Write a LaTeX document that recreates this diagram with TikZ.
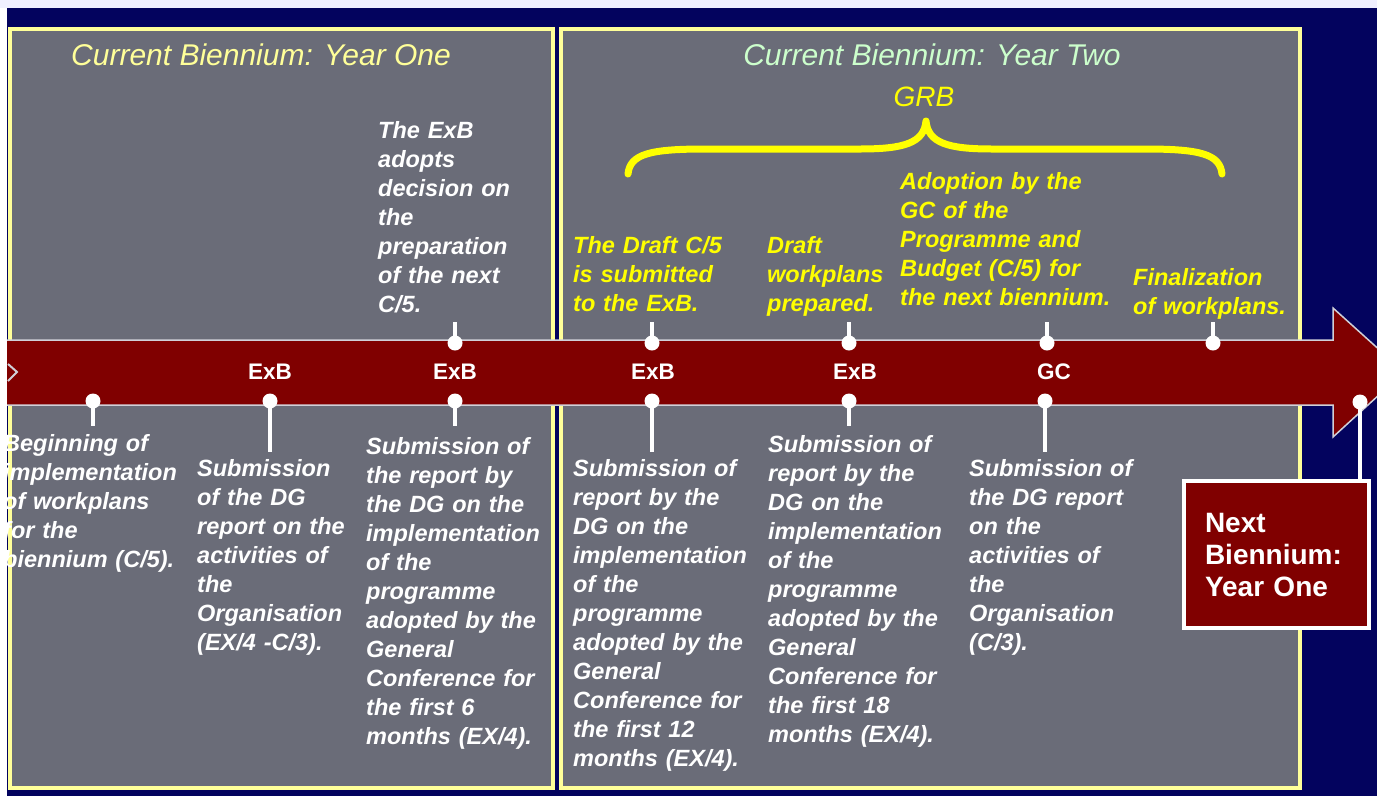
\documentclass[tikz,border=0pt]{standalone}
\usepackage{fontspec}
\setmainfont{Liberation Sans}
\definecolor{navy}{HTML}{03035E}
\definecolor{panelgrey}{HTML}{6A6C78}
\definecolor{paleyellow}{HTML}{FFFF99}
\definecolor{txtyellow}{HTML}{FFFF00}
\definecolor{palegreen}{HTML}{CCFFCC}
\definecolor{bandred}{HTML}{800000}
\definecolor{edgegrey}{HTML}{D0D0D8}
\begin{document}
\begin{tikzpicture}[x=1pt,y=-1pt,
  panel/.style={fill=panelgrey, draw=paleyellow, line width=4pt},
  body/.style={text=white, font=\fontsize{23.5}{29}\selectfont\bfseries\itshape,
    align=left, inner sep=0pt, anchor=base west, text width=260pt},
  yel/.style={body, text=txtyellow},
  title/.style={font=\fontsize{30}{34}\selectfont\itshape, inner sep=0pt},
  bandlbl/.style={text=white, font=\fontsize{22.5}{26}\selectfont, inner sep=0pt},
  stem/.style={white, line width=4.5pt},
  pin/.style={white},
  brace/.style={txtyellow, line width=7pt, line cap=round, line join=round}]
\useasboundingbox (0,0) rectangle (1377,796);
\fill[navy] (0,0) rectangle (1377,796);
% panels
\draw[panel] (10,29) rectangle (553,788);
\draw[panel] (561,29) rectangle (1300,788);
% titles
\node[title, text=paleyellow] (t1) at (261,55) {Current Biennium: Year One};
\node[title, text=palegreen] (t2) at (932,55) {Current Biennium: Year Two};
\node[font=\fontsize{28}{32}\selectfont\itshape, text=txtyellow, inner sep=0pt] (grb) at (924,97) {GRB};
% brace
\draw[brace] (628,174) .. controls (630,154) and (650,149) .. (705,149) -- (860,149)
  .. controls (904,149) and (924,143) .. (926,121)
  .. controls (928,143) and (948,149) .. (992,149) -- (1145,149)
  .. controls (1200,149) and (1220,154) .. (1222,174);
% arrow band
\draw[fill=bandred, draw=edgegrey, line width=1.5pt]
  (0,340) -- (1333,340) -- (1333,308) -- (1404,372) -- (1333,437) -- (1333,405) -- (0,405) -- cycle;
\draw[edgegrey, line width=2pt] (8,364) -- (17,372) -- (8,381);
% band labels
\node[bandlbl] (l1) at (270,372) {\textbf{ExB}};
\node[bandlbl] (l2) at (455,372) {\textbf{ExB}};
\node[bandlbl] (l3) at (653,372) {\textbf{ExB}};
\node[bandlbl] (l4) at (855,372) {\textbf{ExB}};
\node[bandlbl] (l5) at (1054,372) {\textbf{GC}};
% upper ticks
\foreach \x/\n in {455/a,652/b,849/c,1047/d,1213/e}{
  \coordinate (up\n) at (\x,343);
  \coordinate (upend\n) at (\x,322);
  \draw[stem] (up\n) -- (upend\n);
  \fill[pin] (up\n) circle (7.5);
}
% lower ticks
\foreach \x/\e/\n in {93/426/a,270/452/b,455/426/c,652/452/d,849/426/e,1045/452/f}{
  \coordinate (lo\n) at (\x,401);
  \coordinate (loend\n) at (\x,\e);
  \draw[stem] (lo\n) -- (loend\n);
  \fill[pin] (lo\n) circle (7.5);
}
% upper texts
\node[body] (u1) at (378,138) {The ExB\\adopts\\decision on\\the\\preparation\\of the next\\C/5.};
\node[yel] (u2) at (573,253) {The Draft C/5\\is submitted\\to the ExB.};
\node[yel] (u3) at (767,253) {Draft\\workplans\\prepared.};
\node[yel] (u4) at (900,189) {Adoption by the\\GC of the\\Programme and\\Budget (C/5) for\\the next biennium.};
\node[yel] (u5) at (1133,285) {Finalization\\of workplans.};
% lower texts
\node[body] (b1) at (3,451) {Beginning of\\implementation\\of workplans\\for the\\biennium (C/5).};
\node[body] (b2) at (197,476) {Submission\\of the DG\\report on the\\activities of\\the\\Organisation\\(EX/4 -C/3).};
\node[body] (b3) at (366,454) {Submission of\\the report by\\the DG on the\\implementation\\of the\\programme\\adopted by the\\General\\Conference for\\the first 6\\months (EX/4).};
\node[body] (b4) at (573,476) {Submission of\\report by the\\DG on the\\implementation\\of the\\programme\\adopted by the\\General\\Conference for\\the first 12\\months (EX/4).};
\node[body] (b5) at (768,452) {Submission of\\report by the\\DG on the\\implementation\\of the\\programme\\adopted by the\\General\\Conference for\\the first 18\\months (EX/4).};
\node[body] (b6) at (969,476) {Submission of\\the DG report\\on the\\activities of\\the\\Organisation\\(C/3).};
% next biennium
\node[fill=bandred, draw=white, line width=4pt, minimum width=185pt, minimum height=147pt,
  inner xsep=21pt, text width=143pt, align=left, text=white,
  font=\fontsize{28}{32}\selectfont\bfseries] (nb) at (1276.5,554.5) {Next\\Biennium:\\Year One};
\coordinate (nbtick) at (1360,402);
\draw[stem] (nbtick) -- (nbtick |- nb.north);
\fill[pin] (nbtick) circle (7.5);
% outer white margins
\fill[white] (0,0) rectangle (7,796);
\fill[white!94!blue] (0,0) rectangle (1377,8);
\end{tikzpicture}
\end{document}
